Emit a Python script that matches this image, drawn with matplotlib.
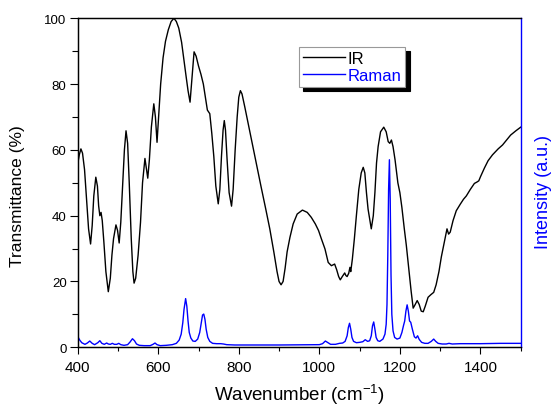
import matplotlib
matplotlib.use("Agg")
import matplotlib.pyplot as plt
from matplotlib.ticker import MultipleLocator

plt.rcParams['font.family'] = ['Liberation Sans', 'DejaVu Sans']
plt.rcParams['mathtext.fontset'] = 'custom'
plt.rcParams['mathtext.rm'] = 'Liberation Sans'
plt.rcParams['mathtext.it'] = 'Liberation Sans:italic'

# IR transmittance spectrum (%)
ir_x = [400, 404, 408, 412, 417, 422, 427, 432, 436, 440, 445, 449, 452, 455, 458, 461, 465, 470,
        476, 481, 485, 489, 495, 499, 503, 507, 512, 516, 520, 524, 528, 533, 537, 540, 544, 550,
        556, 561, 567, 571, 574, 578, 583, 589, 593, 597, 601, 606, 612, 618, 625, 632, 639, 645,
        651, 658, 663, 669, 674, 679, 684, 689, 694, 700, 706, 712, 717, 722, 728, 733, 738, 743,
        749, 753, 757, 761, 764, 767, 771, 776, 782, 786, 791, 796, 800, 804, 808, 815, 825, 835,
        845, 855, 867, 877, 887, 895, 900, 905, 910, 915, 920, 927, 935, 945, 958, 970, 980, 990,
        998, 1005, 1014, 1022, 1030, 1038, 1043, 1048, 1052, 1057, 1063, 1066, 1069, 1073, 1076,
        1078, 1082, 1087, 1092, 1098, 1104, 1109, 1113, 1117, 1121, 1125, 1129, 1134, 1138, 1142,
        1146, 1152, 1160, 1166, 1171, 1175, 1179, 1183, 1188, 1195, 1200, 1205, 1211, 1216, 1222,
        1228, 1233, 1238, 1243, 1248, 1253, 1258, 1263, 1270, 1277, 1284, 1290, 1297, 1303, 1307,
        1312, 1317, 1321, 1325, 1332, 1340, 1350, 1358, 1365, 1375, 1385, 1391, 1396, 1400, 1410,
        1419, 1430, 1444, 1455, 1465, 1475, 1488, 1500]
ir_y = [55.7, 58.5, 60.3, 59, 54, 45, 36, 31.4, 37, 46, 51.7, 49, 43, 40, 41, 38.5, 32, 23,
        16.9, 21, 28, 33, 37.2, 35.5, 31.7, 38, 50, 60, 65.8, 62, 50, 33, 23, 19.5, 21, 28,
        38, 50, 57.4, 54, 51.4, 57, 67, 74, 70, 62.3, 70, 80, 88, 93, 96.5, 99, 100, 99,
        97, 92.7, 88, 82.5, 78, 74.5, 82, 89.8, 88.5, 85.5, 83, 80, 76, 72.1, 71, 65, 58, 49,
        43.6, 48, 58, 66, 68.9, 66, 57, 47, 42.9, 48, 60, 70, 76, 78, 77, 73, 67, 61,
        55, 49, 42, 36, 29, 23, 20, 19, 20, 24, 29, 33.4, 37.5, 40.5, 41.7, 41, 39.5, 37.5,
        35.5, 33, 29.9, 25.8, 24.8, 25.3, 23.6, 21.5, 20.5, 21.5, 22.6, 21.8, 21.5, 22.5, 24.3,
        23, 26.8, 33, 40, 48, 53, 54.7, 53, 47, 42, 39, 36, 40, 47, 56,
        61, 65.5, 66.9, 65.5, 62.5, 62, 63, 61, 57, 50, 47, 42.5, 36, 31, 24,
        17, 11.9, 13, 14.2, 13, 11, 10.8, 12.5, 15.2, 16, 16.7, 19, 23, 27.5, 29.9,
        33, 36, 34.4, 35, 38.5, 41.5, 43.5, 45, 46, 48, 49.8, 50.2, 50.6, 51.8, 54.5,
        56.7, 58.5, 60.3, 61.5, 63, 64.5, 65.8, 66.9]

# Raman intensity (a.u., drawn on the same 0-100 scale)
raman_x = [400, 405, 410, 418, 424, 430, 436, 442, 450, 455, 460, 466, 472, 476, 481, 486, 491,
           497, 502, 507, 515, 524, 530, 536, 541, 546, 553, 565, 580, 587, 592, 597, 605, 620,
           635, 645, 652, 657, 661, 664, 668, 671, 674, 677, 681, 686, 692, 698, 703, 707, 710,
           713, 716, 719, 723, 728, 735, 745, 755, 762, 770, 790, 800, 830, 900, 980, 1000, 1008,
           1015, 1020, 1028, 1040, 1050, 1058, 1064, 1069, 1072, 1075, 1078, 1081, 1085, 1092,
           1100, 1108, 1114, 1120, 1125, 1129, 1132, 1135, 1138, 1141, 1145, 1150, 1158, 1163,
           1166, 1168, 1170, 1172, 1174, 1176, 1178, 1180, 1183, 1187, 1193, 1200, 1205, 1209,
           1212, 1215, 1218, 1221, 1224, 1227, 1231, 1236, 1240, 1244, 1248, 1254, 1262, 1270,
           1278, 1284, 1289, 1295, 1305, 1315, 1322, 1330, 1350, 1400, 1450, 1500]
raman_y = [3.3, 2.2, 1.4, 0.9, 1.3, 1.9, 1.2, 0.8, 1.4, 2.0, 1.2, 0.9, 1.3, 1.0, 0.9, 1.2, 0.9,
           0.9, 1.2, 0.8, 0.6, 0.8, 1.6, 2.6, 2.0, 1.0, 0.6, 0.5, 0.5, 0.9, 1.3, 0.8, 0.5, 0.6,
           0.8, 1.2, 2.2, 4.0, 7.5, 11.5, 14.8, 12.5, 8, 4.5, 2.8, 1.9, 1.8, 2.5, 4.5, 7.5, 9.8,
           10.1, 8.5, 5.5, 3, 1.8, 1.2, 1.1, 1.1, 1.0, 0.8, 0.7, 0.7, 0.7, 0.7, 0.8, 0.8, 1.1,
           1.9, 1.5, 0.9, 0.9, 1.2, 1.3, 1.8, 3.5, 6, 7.3, 5.5, 3, 1.8, 1.4,
           1.5, 1.7, 2.3, 1.8, 2.0, 3.5, 6.5, 7.7, 5.5, 3, 2, 1.8, 2.5, 4,
           7, 13, 28, 48, 57, 45, 22, 10, 5, 3, 2.5, 2.8, 4.5, 6.6,
           8, 11, 12.9, 11, 8, 7.6, 5.5, 3.2, 2.8, 3.5, 2.4, 1.5, 1.2, 1.2,
           1.8, 2.5, 1.8, 1.2, 1.0, 1.0, 1.2, 1.0, 1.1, 1.1, 1.2, 1.2]

fig = plt.figure(figsize=(5.51, 4.10), dpi=100)
ax = fig.add_axes([0.141, 0.1505, 0.804, 0.8025])
ax2 = ax.twinx()

ax.plot(ir_x, ir_y, color='black', lw=1.0, label='IR')
ax2.plot(raman_x, raman_y, color='#0000ff', lw=1.0, label='Raman')

ax.set_xlim(400, 1500)
ax.set_ylim(0, 100)
ax2.set_ylim(0, 100)

ax.xaxis.set_major_locator(MultipleLocator(200))
ax.xaxis.set_minor_locator(MultipleLocator(100))
ax.yaxis.set_major_locator(MultipleLocator(20))
ax.yaxis.set_minor_locator(MultipleLocator(10))
ax.tick_params(axis='x', which='major', direction='out', length=5, width=0.8, labelsize=11, pad=4)
ax.tick_params(axis='x', which='minor', direction='out', length=3, width=0.8)
ax.tick_params(axis='y', which='major', direction='out', length=6, width=0.8, labelsize=9.5, pad=2)
ax.tick_params(axis='y', which='minor', direction='out', length=4, width=0.8)
ax2.set_yticks([])

for s in ['left', 'bottom', 'top']:
    ax.spines[s].set_linewidth(0.9)
    ax2.spines[s].set_linewidth(0.9)
ax2.spines['right'].set_color('#0000ff')
ax2.spines['right'].set_linewidth(1.0)
ax.spines['right'].set_visible(False)

ax.set_xlabel('Wavenumber (cm$^{-1}$)', fontsize=13.5, labelpad=6)
ax.set_ylabel('Transmittance (%)', fontsize=12.5)
ax.yaxis.set_label_coords(-0.118, 0.463)
ax2.set_ylabel('Intensity (a.u.)', fontsize=13, color='#0000ff')
ax2.yaxis.set_label_coords(1.033, 0.475)

h1, l1 = ax.get_legend_handles_labels()
h2, l2 = ax2.get_legend_handles_labels()
leg = ax2.legend(h1 + h2, l1 + l2, loc='upper left', bbox_to_anchor=(0.4996, 0.914),
                 borderaxespad=0, fontsize=12, frameon=True, fancybox=False,
                 handlelength=2.5, handletextpad=0.15, borderpad=0.25, labelspacing=0.12,
                 edgecolor='#999999', framealpha=1,
                 shadow={'ox': 3, 'oy': -3, 'color': 'black', 'alpha': 1})
leg.get_frame().set_linewidth(0.8)
for t, c in zip(leg.get_texts(), ['black', '#0000ff']):
    t.set_color(c)

fig.savefig('out.png', dpi=100)
